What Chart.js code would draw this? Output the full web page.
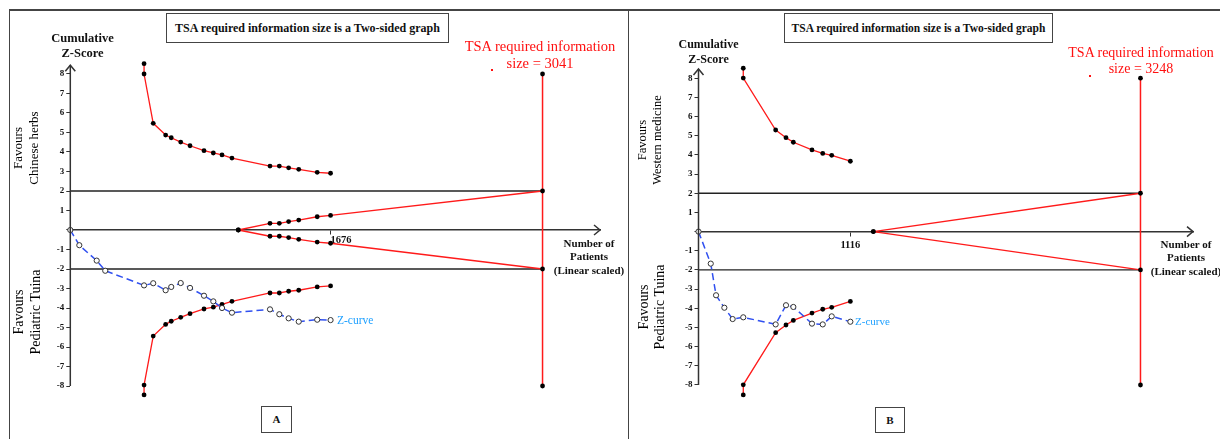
<!DOCTYPE html>
<html><head><meta charset="utf-8">
<script src="https://cdn.jsdelivr.net/npm/chart.js@4.4.1/dist/chart.umd.min.js"></script>
<style>
html,body{margin:0;padding:0;background:#fff;}
body{width:1220px;height:439px;position:relative;overflow:hidden;font-family:'Liberation Serif','Times New Roman',serif;}
canvas{position:absolute;top:0;}
.c{position:absolute;white-space:nowrap;transform:translate(-50%,-50%);color:#111;line-height:1;}
.l{position:absolute;white-space:nowrap;transform:translate(0,-50%);line-height:1;}
.b{font-weight:bold;}
.red{color:#ff1010;}
.rot{position:absolute;white-space:nowrap;transform:translate(-50%,-50%) rotate(-90deg);text-align:center;color:#000;}
.box{position:absolute;border:1.5px solid #444;box-sizing:border-box;background:#fff;text-align:center;font-weight:bold;color:#111;}
.line{position:absolute;background:#444;}
.dot{position:absolute;width:2px;height:2px;background:#ff1010;}
</style>
</head><body>

<canvas id="chartA" width="628" height="439" style="left:0px"></canvas>
<canvas id="chartB" width="592" height="439" style="left:628px"></canvas>

<!-- panel frames -->
<div class="line" style="left:9px;top:9px;width:1211px;height:1.5px"></div>
<div class="line" style="left:8.5px;top:9px;width:1.5px;height:430px"></div>
<div class="line" style="left:627.5px;top:9px;width:1.5px;height:430px"></div>

<!-- Panel A texts -->
<div class="box" style="left:166px;top:13px;width:283px;height:30px;line-height:28px;font-size:12px">TSA required information size is a Two-sided graph</div>
<div class="c red" style="left:540px;top:46px;font-size:14.5px">TSA required information</div>
<div class="c red" style="left:540px;top:63px;font-size:14.5px">size = 3041</div>
<div class="dot" style="left:491px;top:69px"></div>
<div class="c b" style="left:82.5px;top:37.5px;font-size:12.5px">Cumulative</div>
<div class="c b" style="left:82.5px;top:53px;font-size:12.5px">Z-Score</div>
<div class="rot" style="left:25px;top:148px;font-size:13px;line-height:15.5px">Favours<br>Chinese herbs</div>
<div class="rot" style="left:26.5px;top:311.5px;font-size:14px;line-height:16.5px">Favours<br>Pediatric Tuina</div>
<div class="c b" style="left:589px;top:243px;font-size:11px">Number of</div>
<div class="c b" style="left:589px;top:256px;font-size:11px">Patients</div>
<div class="c b" style="left:589px;top:269.5px;font-size:11px">(Linear scaled)</div>
<div class="l" style="left:337px;top:321px;font-size:11.5px;color:#1ea0ff">Z-curve</div>
<div class="box" style="left:261px;top:406px;width:31px;height:27px;line-height:25px;font-size:11px">A</div>

<!-- Panel B texts -->
<div class="box" style="left:784px;top:13px;width:269px;height:30px;line-height:28px;font-size:11.5px">TSA required information size is a Two-sided graph</div>
<div class="c red" style="left:1141px;top:52.5px;font-size:14px">TSA required information</div>
<div class="c red" style="left:1141px;top:69px;font-size:14px">size = 3248</div>
<div class="dot" style="left:1089px;top:75px"></div>
<div class="c b" style="left:708.5px;top:43.5px;font-size:12px">Cumulative</div>
<div class="c b" style="left:708.5px;top:58.5px;font-size:12px">Z-Score</div>
<div class="rot" style="left:650px;top:140px;font-size:12.5px;line-height:15px">Favours<br>Western medicine</div>
<div class="rot" style="left:652px;top:307px;font-size:14px;line-height:16px">Favours<br>Pediatric Tuina</div>
<div class="c b" style="left:1186px;top:244px;font-size:11px">Number of</div>
<div class="c b" style="left:1186px;top:257px;font-size:11px">Patients</div>
<div class="c b" style="left:1186px;top:270.5px;font-size:11px">(Linear scaled)</div>
<div class="l" style="left:855px;top:321px;font-size:11px;color:#1ea0ff">Z-curve</div>
<div class="box" style="left:875px;top:407px;width:30px;height:26px;line-height:24px;font-size:11px">B</div>

<script>
// ---------- Panel A data ----------
const patientsA = [0, 58, 170, 225, 475, 534, 614, 650, 711, 771, 861, 921, 977, 1041, 1286, 1346, 1406, 1471, 1590, 1676];
const zCurveA = [0, -0.78, -1.57, -2.09, -2.84, -2.73, -3.09, -2.92, -2.72, -2.97, -3.37, -3.66, -4.00, -4.24, -4.07, -4.32, -4.53, -4.70, -4.60, -4.62];
const boundaryPatientsA = [475, 475, 534, 614, 650, 711, 771, 861, 921, 977, 1041, 1286, 1346, 1406, 1471, 1590, 1676];
const upperBoundaryA = [8.53, 8.0, 5.47, 4.87, 4.73, 4.51, 4.32, 4.07, 3.95, 3.85, 3.69, 3.28, 3.28, 3.19, 3.11, 2.96, 2.91];
const lowerBoundaryA = [-8.46, -7.95, -5.44, -4.84, -4.68, -4.48, -4.29, -4.05, -3.96, -3.81, -3.66, -3.23, -3.23, -3.14, -3.09, -2.92, -2.87];
const futilityPatientsA = [1082, 1286, 1346, 1406, 1471, 1590, 1676, 3041];
const upperFutilityA = [0, 0.34, 0.34, 0.43, 0.51, 0.68, 0.75, 2];
const lowerFutilityA = [0, -0.32, -0.32, -0.39, -0.48, -0.62, -0.68, -2];
const requiredSizeA = 3041;
const xTickLabelsA = [1676];

// ---------- Panel B data ----------
const patientsB = [0, 90, 129, 190, 251, 329, 567, 643, 697, 834, 913, 979, 1116];
const zCurveB = [0, -1.67, -3.32, -3.97, -4.56, -4.47, -4.84, -3.84, -3.93, -4.80, -4.84, -4.42, -4.70];
const boundaryPatientsB = [329, 329, 567, 643, 697, 834, 913, 979, 1116];
const upperBoundaryB = [8.52, 8.01, 5.30, 4.90, 4.66, 4.26, 4.08, 3.98, 3.67];
const lowerBoundaryB = [-8.52, -7.99, -5.27, -4.87, -4.63, -4.25, -4.05, -3.95, -3.64];
const futilityPatientsB = [1285, 3248];
const upperFutilityB = [0, 2];
const lowerFutilityB = [0, -2];
const requiredSizeB = 3248;
const xTickLabelsB = [1116];

// shared
const conventionalBoundaries = [2, -2];
const requiredSizeZ = [8, -8];
const yAxisMin = -8;

function zip(xs, ys) { return xs.map((x, i) => ({x: x, y: ys[i]})); }

const axisPlugin = {
  id: 'axisDecor',
  afterDraw(chart, args, opts) {
    const c = chart.ctx, a = chart.chartArea;
    const y0 = chart.scales.y.getPixelForValue(0);
    const yBottom = chart.scales.y.getPixelForValue(yAxisMin);
    const yTop = chart.scales.y.getPixelForValue(chart.options.plugins.axisDecor.yArrowAt);
    const x0 = chart.scales.x.getPixelForValue(0);
    c.save();
    c.strokeStyle = '#333'; c.lineWidth = 1.5;
    c.beginPath();
    c.moveTo(x0, yBottom); c.lineTo(x0, yTop);
    c.stroke();
    c.beginPath();
    c.moveTo(a.right - 6, y0 - 5); c.lineTo(a.right, y0); c.lineTo(a.right - 6, y0 + 5);
    c.moveTo(x0 - 5, yTop + 6); c.lineTo(x0, yTop); c.lineTo(x0 + 5, yTop + 6);
    c.stroke();
    c.restore();
  }
};

function buildChart(id, d) {
  const red = '#ff1a1a';
  const dotStyle = {pointRadius: 2.4, pointBackgroundColor: '#000', pointBorderColor: '#000', pointBorderWidth: 0, clip: false};
  return new Chart(document.getElementById(id), {
    type: 'line',
    data: {
      datasets: [
        {label: 'Z-curve', data: zip(d.patients, d.z), borderColor: '#3050f0', borderWidth: 1.5, borderDash: [7, 4],
          pointRadius: 2.6, pointBackgroundColor: '#fff', pointBorderColor: '#333', pointBorderWidth: 1, order: 0, clip: false},
        Object.assign({label: 'Upper boundary', data: zip(d.bx, d.upper), borderColor: red, borderWidth: 1.3, order: 1}, dotStyle),
        Object.assign({label: 'Lower boundary', data: zip(d.bx, d.lower), borderColor: red, borderWidth: 1.3, order: 1}, dotStyle),
        Object.assign({label: 'Upper futility', data: zip(d.fx, d.fupper), borderColor: red, borderWidth: 1.3, order: 1}, dotStyle),
        Object.assign({label: 'Lower futility', data: zip(d.fx, d.flower), borderColor: red, borderWidth: 1.3, order: 1}, dotStyle),
        Object.assign({label: 'Required information size', data: requiredSizeZ.map(v => ({x: d.ris, y: v})), borderColor: red, borderWidth: 1.5, order: 1}, dotStyle),
        {label: 'Z = 2', data: [{x: 0, y: conventionalBoundaries[0]}, {x: d.ris, y: conventionalBoundaries[0]}], borderColor: '#222', borderWidth: 1.3, pointRadius: 0, order: 3},
        {label: 'Z = -2', data: [{x: 0, y: conventionalBoundaries[1]}, {x: d.ris, y: conventionalBoundaries[1]}], borderColor: '#222', borderWidth: 1.3, pointRadius: 0, order: 3}
      ]
    },
    options: {
      responsive: false, animation: false, devicePixelRatio: 1,
      layout: {padding: d.padding},
      elements: {line: {tension: 0, fill: false}},
      plugins: {legend: {display: false}, tooltip: {enabled: false}, axisDecor: {yArrowAt: d.yArrowAt}},
      scales: {
        x: {
          type: 'linear', position: {y: 0}, min: 0, max: d.xmax,
          afterBuildTicks: s => { s.ticks = d.xTicks.map(v => ({value: v})); },
          ticks: {callback: v => String(v), font: {family: 'Liberation Serif', size: 10.5, weight: 'bold'}, color: '#111',
            padding: d.xPad, maxRotation: 0, autoSkip: false, align: d.xAlign},
          grid: {drawOnChartArea: false, drawTicks: true, tickLength: 4, color: '#333', lineWidth: 1},
          border: {display: true, color: '#333', width: 1.5}
        },
        y: {
          type: 'linear', position: 'left', min: d.ymin, max: d.ymax,
          afterFit: s => { s.width = 30; },
          ticks: {stepSize: 1, includeBounds: false, callback: v => (v === 0 ? '' : String(v)),
            font: {family: 'Liberation Serif', size: 9, weight: 'bold'}, color: '#111', padding: 2},
          grid: {drawOnChartArea: false, drawTicks: true, tickLength: 4, color: '#333', lineWidth: 1},
          border: {display: false}
        }
      }
    },
    plugins: [axisPlugin]
  });
}

buildChart('chartA', {
  patients: patientsA, z: zCurveA, bx: boundaryPatientsA, upper: upperBoundaryA, lower: lowerBoundaryA,
  fx: futilityPatientsA, fupper: upperFutilityA, flower: lowerFutilityA, ris: requiredSizeA, xTicks: xTickLabelsA,
  xmax: 3411, ymin: -8.6, ymax: 8.7, yArrowAt: 8.45, xAlign: 'start', xPad: 0,
  padding: {left: 40.3, right: 28, top: 60.35, bottom: 41.3}
});
buildChart('chartB', {
  patients: patientsB, z: zCurveB, bx: boundaryPatientsB, upper: upperBoundaryB, lower: lowerBoundaryB,
  fx: futilityPatientsB, fupper: upperFutilityB, flower: lowerFutilityB, ris: requiredSizeB, xTicks: xTickLabelsB,
  xmax: 3634, ymin: -8.6, ymax: 8.7, yArrowAt: 8.48, xAlign: 'center', xPad: 3,
  padding: {left: 40.5, right: 27, top: 64.8, bottom: 42.5}
});
</script>
</body></html>
